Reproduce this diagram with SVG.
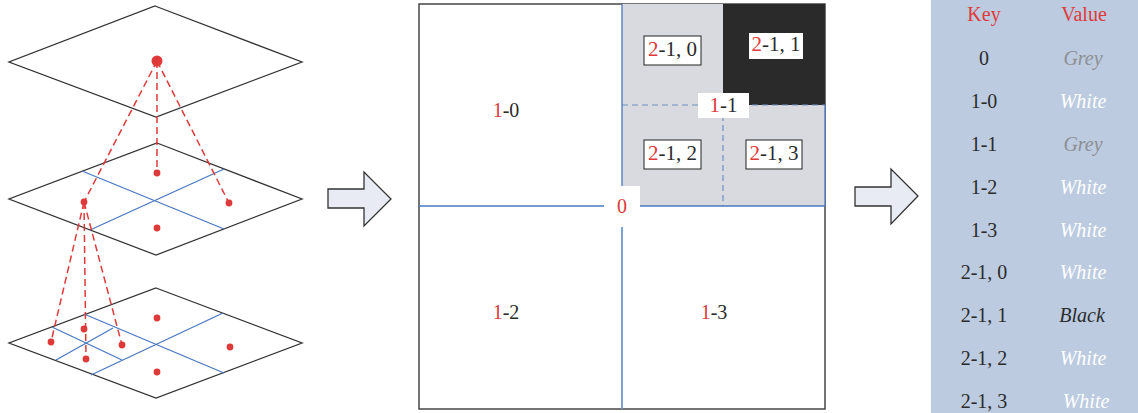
<svg xmlns="http://www.w3.org/2000/svg" width="1138" height="413" viewBox="0 0 1138 413">
<style>
.dia{fill:#fff;stroke:#333;stroke-width:1.3}
.bl{stroke:#4a78c0;stroke-width:1.3;fill:none}
.dot{fill:#df3a3a}
.dash{stroke:#df3a3a;stroke-width:1.5;stroke-dasharray:7 4;fill:none}
.t{font-family:"Liberation Serif","Times New Roman",serif;font-size:20px;fill:#2b2b2b;text-anchor:middle}
.b{font-size:21px}
.r{fill:#df3a3a}
.it{font-style:italic}
.arr{fill:#e8ebf4;stroke:#333;stroke-width:1.3}
.lbox{fill:#fff;stroke:#222;stroke-width:1}
</style>
<rect width="1138" height="413" fill="#fff"/>

<!-- Left: layered quadtree -->
<g id="layer-top">
<polygon class="dia" points="155,6 302,62 156,117 9,62"/>
</g>
<g id="layer-mid">
<polygon class="dia" points="157,143 302,199 156,255 9,199"/>
<line class="bl" x1="82" y1="171" x2="224" y2="229"/>
<line class="bl" x1="224" y1="169" x2="90" y2="230"/>
</g>
<g id="layer-bottom">
<polygon class="dia" points="156,288 302,343 156,398 9,343"/>
<line class="bl" x1="84" y1="314" x2="224" y2="373"/>
<line class="bl" x1="223" y1="313" x2="91" y2="375"/>
<line class="bl" x1="52" y1="327" x2="122" y2="360"/>
<line class="bl" x1="113" y1="328" x2="56" y2="360"/>
</g>
<g id="connectors">
<line class="dash" x1="157" y1="61" x2="84" y2="202"/>
<line class="dash" x1="157" y1="61" x2="157" y2="173"/>
<line class="dash" x1="157" y1="61" x2="229" y2="203"/>
<line class="dash" x1="84" y1="202" x2="51" y2="342"/>
<line class="dash" x1="84" y1="202" x2="86" y2="359"/>
<line class="dash" x1="84" y1="202" x2="122" y2="345"/>
</g>
<g id="dots">
<circle class="dot" cx="157" cy="61" r="5.5"/>
<circle class="dot" cx="157" cy="173" r="3.4"/>
<circle class="dot" cx="157" cy="228" r="3.4"/>
<circle class="dot" cx="84" cy="202" r="3.4"/>
<circle class="dot" cx="229" cy="203" r="3.4"/>
<circle class="dot" cx="51" cy="342" r="3.4"/>
<circle class="dot" cx="84" cy="329" r="3.4"/>
<circle class="dot" cx="86" cy="359" r="3.4"/>
<circle class="dot" cx="122" cy="345" r="3.4"/>
<circle class="dot" cx="157" cy="318" r="3.4"/>
<circle class="dot" cx="230" cy="347" r="3.4"/>
<circle class="dot" cx="157" cy="372" r="3.4"/>
</g>

<!-- Arrows -->
<g id="arrow-1">
<polygon class="arr" points="328,189 364,189 364,172 391,199 364,226 364,208 328,208"/>
</g>
<g id="arrow-2">
<polygon class="arr" points="855,187 891,187 891,169 918,196 891,224 891,206 855,206"/>
</g>

<!-- Middle: quadtree grid -->
<g id="grid">
<rect x="419" y="4" width="406" height="405" fill="#fff" stroke="#3a3a3a" stroke-width="1.4"/>
<rect x="622" y="4" width="203" height="202" fill="#d9dadf"/>
<rect x="723" y="4" width="102" height="101" fill="#2b2a2b"/>
<line x1="622" y1="105" x2="825" y2="105" stroke="#6f8fc4" stroke-width="1.2" stroke-dasharray="6 4"/>
<line x1="723" y1="105" x2="723" y2="206" stroke="#6f8fc4" stroke-width="1.2" stroke-dasharray="6 4"/>
<line class="bl" x1="825" y1="105" x2="825" y2="206" stroke-width="1.5"/>
<line class="bl" x1="622" y1="4" x2="622" y2="186" stroke-width="1.5"/>
<line x1="622" y1="227" x2="622" y2="409" stroke="#7199cf" stroke-width="1.8"/>
<line class="bl" x1="419" y1="206" x2="604" y2="206" stroke-width="1.5"/>
<line class="bl" x1="640" y1="206" x2="825" y2="206" stroke-width="1.5"/>
</g>
<g id="cell-0">
<rect x="604" y="186" width="36" height="41" fill="#fff"/>
<text class="t r" x="622" y="213">0</text>
</g>
<g id="cell-1-0"><text class="t" x="506" y="117"><tspan class="r">1</tspan>-0</text></g>
<g id="cell-1-2"><text class="t" x="506" y="319"><tspan class="r">1</tspan>-2</text></g>
<g id="cell-1-3"><text class="t" x="714" y="319"><tspan class="r">1</tspan>-3</text></g>
<g id="cell-1-1">
<rect x="698" y="93" width="51" height="25" fill="#fff"/>
<text class="t b" x="723.5" y="112"><tspan class="r">1</tspan>-1</text>
</g>
<g id="cell-2-1-0">
<rect class="lbox" x="644" y="36" width="57" height="29"/>
<text class="t b" x="672.5" y="56"><tspan class="r">2</tspan>-1, 0</text>
</g>
<g id="cell-2-1-1">
<rect x="749" y="33" width="54" height="26" fill="#fff"/>
<text class="t b" x="776" y="51"><tspan class="r">2</tspan>-1, 1</text>
</g>
<g id="cell-2-1-2">
<rect class="lbox" x="644" y="140" width="57" height="29"/>
<text class="t b" x="672.5" y="160"><tspan class="r">2</tspan>-1, 2</text>
</g>
<g id="cell-2-1-3">
<rect class="lbox" x="746" y="140" width="56" height="29"/>
<text class="t b" x="774" y="160"><tspan class="r">2</tspan>-1, 3</text>
</g>

<!-- Right: key/value table -->
<g id="table">
<rect x="931" y="0" width="207" height="413" fill="#bccbe0"/>
<text class="t r" x="984" y="21">Key</text>
<text class="t r" x="1084" y="21">Value</text>
<text class="t" x="984" y="65">0</text>
<text class="t it" x="1083" y="65" style="fill:#8e8f93">Grey</text>
<text class="t" x="984" y="108">1-0</text>
<text class="t it" x="1083" y="108" style="fill:#fff">White</text>
<text class="t" x="984" y="151">1-1</text>
<text class="t it" x="1083" y="151" style="fill:#8e8f93">Grey</text>
<text class="t" x="984" y="193.5">1-2</text>
<text class="t it" x="1083" y="193.5" style="fill:#fff">White</text>
<text class="t" x="984" y="236.5">1-3</text>
<text class="t it" x="1083" y="236.5" style="fill:#fff">White</text>
<text class="t" x="984" y="279">2-1, 0</text>
<text class="t it" x="1083" y="279" style="fill:#fff">White</text>
<text class="t" x="984" y="322">2-1, 1</text>
<text class="t it" x="1082" y="322" style="fill:#2b2b2b">Black</text>
<text class="t" x="984" y="365">2-1, 2</text>
<text class="t it" x="1083" y="365" style="fill:#fff">White</text>
<text class="t" x="984" y="408">2-1, 3</text>
<text class="t it" x="1086" y="408" style="fill:#fff">White</text>
</g>
</svg>
